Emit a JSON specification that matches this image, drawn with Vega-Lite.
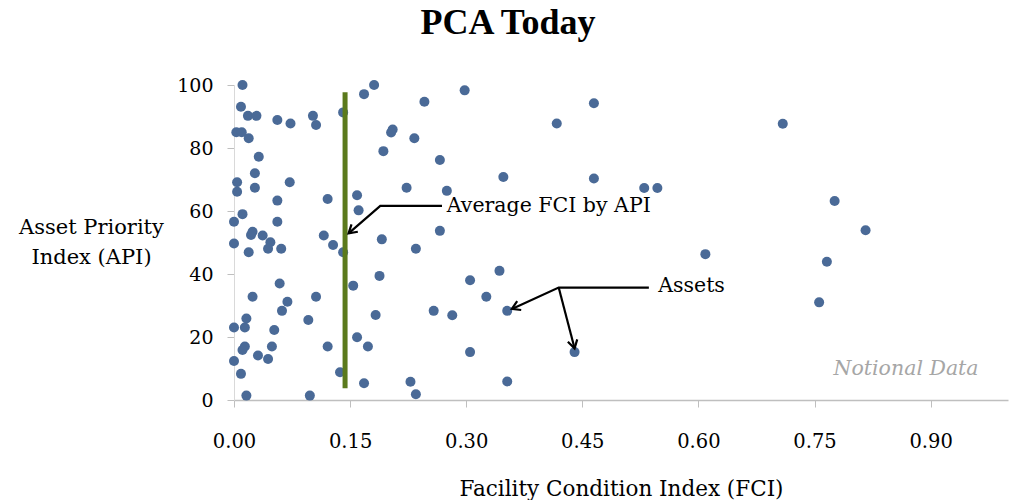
{
  "$schema": "https://vega.github.io/schema/vega-lite/v6.json",
  "autosize": "none",
  "width": 774,
  "height": 315,
  "padding": {"left": 234, "top": 85, "right": 4, "bottom": 100},
  "background": "white",
  "config": {"view": {"stroke": null}, "font": "DejaVu Serif"},
  "title": {"text": "PCA Today", "font": "Liberation Serif", "fontSize": 36, "fontWeight": "bold", "color": "black", "anchor": "middle", "dx": -113, "offset": 34},
  "datasets": {
    "assets": [
      {"fci":0.011,"api":100},{"fci":0.168,"api":97.1},{"fci":0.181,"api":100},{"fci":0.009,"api":93.1},
      {"fci":0.018,"api":90.2},{"fci":0.029,"api":90.2},{"fci":0.056,"api":88.9},{"fci":0.073,"api":87.8},
      {"fci":0.102,"api":90.2},{"fci":0.106,"api":87.3},{"fci":0.141,"api":91.3},{"fci":0.003,"api":85},
      {"fci":0.010,"api":85},{"fci":0.019,"api":83.1},{"fci":0.205,"api":85.9},{"fci":0.203,"api":84.9},
      {"fci":0.233,"api":83.1},{"fci":0.193,"api":79},{"fci":0.032,"api":77.2},{"fci":0.027,"api":72},
      {"fci":0.004,"api":69.1},{"fci":0.004,"api":66.1},{"fci":0.027,"api":67.4},{"fci":0.072,"api":69.1},
      {"fci":0.223,"api":67.4},{"fci":0.056,"api":63.3},{"fci":0.121,"api":63.8},{"fci":0.159,"api":65},
      {"fci":0.161,"api":60.2},{"fci":0.011,"api":59},{"fci":0.0,"api":56.6},{"fci":0.056,"api":56.6},
      {"fci":0.0,"api":49.7},{"fci":0.022,"api":52.4},{"fci":0.024,"api":53.4},{"fci":0.037,"api":52.2},
      {"fci":0.047,"api":50.1},{"fci":0.044,"api":48},{"fci":0.019,"api":46.9},{"fci":0.061,"api":48},
      {"fci":0.116,"api":52.2},{"fci":0.128,"api":49.2},{"fci":0.141,"api":46.9},{"fci":0.191,"api":51},
      {"fci":0.235,"api":48},{"fci":0.059,"api":37},{"fci":0.024,"api":32.8},{"fci":0.106,"api":32.8},
      {"fci":0.069,"api":31.2},{"fci":0.062,"api":28.3},{"fci":0.154,"api":36.3},{"fci":0.188,"api":39.4},
      {"fci":0.016,"api":25.9},{"fci":0.0,"api":23},{"fci":0.014,"api":23},{"fci":0.052,"api":22.2},
      {"fci":0.096,"api":25.4},{"fci":0.183,"api":27},{"fci":0.159,"api":19.9},{"fci":0.173,"api":17},
      {"fci":0.121,"api":17},{"fci":0.014,"api":17},{"fci":0.011,"api":15.9},{"fci":0.049,"api":17},
      {"fci":0.031,"api":14.1},{"fci":0.044,"api":13},{"fci":0.0,"api":12.4},{"fci":0.009,"api":8.3},
      {"fci":0.137,"api":8.8},{"fci":0.168,"api":5.3},{"fci":0.228,"api":5.8},{"fci":0.235,"api":1.8},
      {"fci":0.016,"api":1.4},{"fci":0.098,"api":1.4},{"fci":0.246,"api":94.7},{"fci":0.298,"api":98.3},
      {"fci":0.465,"api":94.2},{"fci":0.417,"api":87.8},{"fci":0.266,"api":76.2},{"fci":0.348,"api":70.8},
      {"fci":0.465,"api":70.3},{"fci":0.275,"api":66.4},{"fci":0.53,"api":67.3},{"fci":0.547,"api":67.3},
      {"fci":0.266,"api":53.7},{"fci":0.343,"api":41},{"fci":0.305,"api":38},{"fci":0.326,"api":32.8},
      {"fci":0.258,"api":28.3},{"fci":0.282,"api":26.9},{"fci":0.353,"api":28.3},{"fci":0.305,"api":15.2},
      {"fci":0.44,"api":15.2},{"fci":0.353,"api":5.9},{"fci":0.709,"api":87.7},{"fci":0.776,"api":63.2},
      {"fci":0.816,"api":53.9},{"fci":0.609,"api":46.3},{"fci":0.766,"api":43.9},{"fci":0.756,"api":31}
    ],
    "avg": [{"fci": 0.1435, "lo": 3.7, "hi": 97.7}],
    "callouts": [
      {"seg": "a", "ord": 1, "fci": 0.2687, "api": 61.6},
      {"seg": "a", "ord": 2, "fci": 0.189, "api": 61.6},
      {"seg": "a", "ord": 3, "fci": 0.148, "api": 52.9},
      {"seg": "b", "ord": 1, "fci": 0.536, "api": 35.7},
      {"seg": "b", "ord": 2, "fci": 0.4195, "api": 35.7},
      {"seg": "b", "ord": 3, "fci": 0.359, "api": 28.9},
      {"seg": "c", "ord": 1, "fci": 0.4195, "api": 35.7},
      {"seg": "c", "ord": 2, "fci": 0.44, "api": 16.4}
    ],
    "labels": [
      {"name": "avg", "fci": 0.275, "api": 59.8, "text": "Average FCI by API"},
      {"name": "assets", "fci": 0.548, "api": 34.4, "text": "Assets"}
    ],
    "note": [{"fci": 0.962, "api": 7.9, "text": "Notional Data"}]
  },
  "layer": [
    {
      "data": {"name": "assets"},
      "mark": {"type": "point", "filled": true, "size": 100, "color": "#4A6A97", "opacity": 1},
      "encoding": {
        "x": {"field": "fci", "type": "quantitative", "scale": {"domain": [0, 1], "nice": false, "zero": false},
          "axis": {"values": [0, 0.15, 0.3, 0.45, 0.6, 0.75, 0.9], "format": ".2f", "grid": false,
            "labelFlush": false, "labelOverlap": false,
            "domainColor": "#BFBFBF", "domainWidth": 1.5, "tickColor": "#BFBFBF", "tickSize": 7, "tickWidth": 1,
            "labelFont": "DejaVu Serif", "labelFontSize": 19.5, "labelColor": "black", "labelPadding": 40, "labelBaseline": "alphabetic",
            "title": "Facility Condition Index (FCI)", "titleFont": "DejaVu Serif", "titleFontSize": 21.5,
            "titleFontWeight": "normal", "titleColor": "black", "titleBaseline": "alphabetic", "titleY": 95}},
        "y": {"field": "api", "type": "quantitative", "scale": {"domain": [0, 100], "nice": false},
          "axis": {"values": [0,10,20,30,40,50,60,70,80,90,100], "grid": false,
            "labelFlush": false, "labelOverlap": false,
            "domainColor": "#D9D9D9", "domainWidth": 1, "tickColor": "#BFBFBF", "tickSize": 7, "tickWidth": 1,
            "labelFont": "DejaVu Serif", "labelFontSize": 19, "labelColor": "black", "labelPadding": 14,
            "title": ["Asset Priority", "Index (API)"], "titleFont": "DejaVu Serif", "titleFontSize": 21,
            "titleFontWeight": "normal", "titleColor": "black", "titleAngle": 0, "titleAlign": "center",
            "titleBaseline": "alphabetic", "titleX": -143, "titleY": 148, "titleLineHeight": 30}}
      }
    },
    {
      "data": {"name": "avg"},
      "mark": {"type": "rule", "color": "#5B7A1C", "strokeWidth": 5},
      "encoding": {
        "x": {"field": "fci", "type": "quantitative"},
        "y": {"field": "lo", "type": "quantitative"},
        "y2": {"field": "hi"}
      }
    },
    {
      "data": {"name": "callouts"},
      "mark": {"type": "line", "color": "black", "strokeWidth": 2.2},
      "encoding": {
        "x": {"field": "fci", "type": "quantitative"},
        "y": {"field": "api", "type": "quantitative"},
        "detail": {"field": "seg"},
        "order": {"field": "ord"}
      }
    },
    {
      "data": {"name": "callouts"},
      "transform": [{"filter": "datum.seg == 'a' && datum.ord == 3"}],
      "mark": {"type": "point", "shape": "M-1,-0.6L0,0L-1,0.6", "filled": false, "size": 260, "stroke": "black", "strokeWidth": 2.2, "angle": 139.3, "opacity": 1},
      "encoding": {"x": {"field": "fci", "type": "quantitative"}, "y": {"field": "api", "type": "quantitative"}}
    },
    {
      "data": {"name": "callouts"},
      "transform": [{"filter": "datum.seg == 'b' && datum.ord == 3"}],
      "mark": {"type": "point", "shape": "M-1,-0.6L0,0L-1,0.6", "filled": false, "size": 260, "stroke": "black", "strokeWidth": 2.2, "angle": 155.4, "opacity": 1},
      "encoding": {"x": {"field": "fci", "type": "quantitative"}, "y": {"field": "api", "type": "quantitative"}}
    },
    {
      "data": {"name": "callouts"},
      "transform": [{"filter": "datum.seg == 'c' && datum.ord == 2"}],
      "mark": {"type": "point", "shape": "M-1,-0.6L0,0L-1,0.6", "filled": false, "size": 260, "stroke": "black", "strokeWidth": 2.2, "angle": 75.5, "opacity": 1},
      "encoding": {"x": {"field": "fci", "type": "quantitative"}, "y": {"field": "api", "type": "quantitative"}}
    },
    {
      "data": {"name": "labels"},
      "mark": {"type": "text", "align": "left", "baseline": "alphabetic", "font": "DejaVu Serif", "fontSize": 20.5, "color": "black"},
      "encoding": {
        "x": {"field": "fci", "type": "quantitative"},
        "y": {"field": "api", "type": "quantitative"},
        "text": {"field": "text"}
      }
    },
    {
      "data": {"name": "note"},
      "mark": {"type": "text", "align": "right", "baseline": "alphabetic", "font": "DejaVu Serif", "fontSize": 20.5, "fontStyle": "italic", "color": "#A6A6A6"},
      "encoding": {
        "x": {"field": "fci", "type": "quantitative"},
        "y": {"field": "api", "type": "quantitative"},
        "text": {"field": "text"}
      }
    }
  ]
}
